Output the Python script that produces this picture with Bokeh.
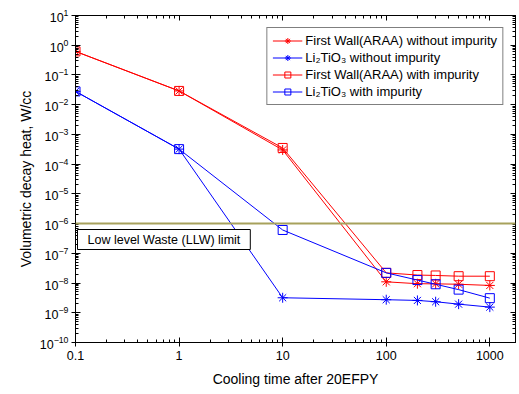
from bokeh.plotting import figure
from bokeh.models import (LogAxis, FixedTicker, CustomJSTickFormatter, Span, Label,
                          Legend, LegendItem, Range1d)
from bokeh.embed import file_html
from bokeh.resources import INLINE

# ---- data ----
cooling_time = [0.1, 1, 10, 100, 200, 300, 500, 1000]
fw_without = [0.62, 0.029, 3.0e-4, 1.1e-8, 9.5e-9, 9.4e-9, 9.1e-9, 8.3e-9]
li_without = [0.028, 3.2e-4, 3.2e-9, 2.75e-9, 2.6e-9, 2.35e-9, 1.95e-9, 1.55e-9]
fw_with = [0.62, 0.029, 3.5e-4, 2.2e-8, 1.86e-8, 1.8e-8, 1.7e-8, 1.7e-8]
li_with = [0.028, 3.2e-4, 6.1e-7, 2.2e-8, 1.26e-8, 9.1e-9, 6.0e-9, 3.1e-9]
llw_limit = 1e-6

series_names = ["First Wall(ARAA) without impurity", "Li\u2082TiO\u2083 without impurity",
                "First Wall(ARAA) with impurity", "Li\u2082TiO\u2083 with impurity"]

# axis tick positions (decades) and minor ticks
x_decades = [-1, 0, 1, 2, 3]
y_decades = list(range(-10, 2))
x_major = [10.0 ** d for d in x_decades]
y_major = [10.0 ** d for d in y_decades]
x_minor = [m * 10.0 ** d for d in x_decades for m in range(2, 10)]
y_minor = [m * 10.0 ** d for d in y_decades[:-1] for m in range(2, 10)]

FONT = "Liberation Sans"

p = figure(width=519, height=394, x_axis_type="log", y_axis_type="log",
           x_range=Range1d(0.1, 1770), y_range=Range1d(1e-10, 10),
           output_backend="svg", toolbar_location=None,
           min_border_left=75, min_border_right=4, min_border_top=15, min_border_bottom=52)
p.grid.visible = False
p.outline_line_color = "black"
p.background_fill_color = "white"

xa = p.xaxis[0]
ya = p.yaxis[0]
xa.ticker = FixedTicker(ticks=x_major, minor_ticks=x_minor)
ya.ticker = FixedTicker(ticks=y_major, minor_ticks=y_minor)
xa.formatter = CustomJSTickFormatter(code="return tick < 1 ? tick.toFixed(1) : tick.toFixed(0);")
for ax in (xa, ya):
    ax.major_tick_in = 5
    ax.major_tick_out = 4
    ax.minor_tick_in = 3
    ax.minor_tick_out = 0
    ax.axis_line_color = "black"
    ax.major_tick_line_color = "black"
    ax.minor_tick_line_color = "black"
    ax.major_label_text_font = FONT
    ax.major_label_text_font_size = "12.5px"
    ax.major_label_text_color = "black"
    ax.axis_label_text_font = FONT
    ax.axis_label_text_font_size = "14px"
    ax.axis_label_text_font_style = "normal"
    ax.axis_label_text_color = "black"
xa.axis_label = "Cooling time after 20EFPY"
ya.axis_label = "Volumetric decay heat, W/cc"
xa.major_label_standoff = 4
ya.major_label_standoff = 3
xa.axis_label_standoff = 8
ya.axis_label_standoff = 3

# mirrored axes without labels
for loc, tk in (("right", ya.ticker), ("above", xa.ticker)):
    ax = LogAxis(ticker=FixedTicker(ticks=tk.ticks, minor_ticks=tk.minor_ticks),
                 formatter=CustomJSTickFormatter(code="return ' ';"))
    ax.major_tick_in = 5
    ax.major_tick_out = 0
    ax.minor_tick_in = 3
    ax.minor_tick_out = 0
    ax.major_label_standoff = 0
    ax.major_label_text_font_size = "2px"
    ax.axis_line_color = "black"
    ax.major_tick_line_color = "black"
    ax.minor_tick_line_color = "black"
    p.add_layout(ax, loc)

# LLW limit line
p.add_layout(Span(location=llw_limit, dimension="width", line_color="#a7a15c", line_width=2))
p.add_layout(Label(x=2, y=93, x_units="screen", y_units="screen",
                   text="Low level Waste (LLW) limit", text_font=FONT, text_font_size="12.5px",
                   text_color="black", text_baseline="bottom", text_align="left",
                   border_line_color="black", border_line_width=1, background_fill_color="white",
                   padding=dict(left=10, right=10, top=3, bottom=3)))

colors = ["red", "blue", "red", "blue"]
ys = [fw_without, li_without, fw_with, li_with]
markers = ["asterisk", "asterisk", "square", "square"]
items = []
for name, c, yv, m in zip(series_names, colors, ys, markers):
    r1 = p.line(cooling_time, yv, line_color=c, line_width=1)
    r2 = p.scatter(cooling_time, yv, marker=m, size=10 if m == "asterisk" else 9,
                   line_color=c, fill_color=None, line_width=1)
    items.append(LegendItem(label=name, renderers=[r1, r2]))

legend = Legend(items=items, location="top_right", label_text_font=FONT,
                label_text_font_size="13px", label_text_color="black",
                border_line_color="black", border_line_width=1, background_fill_color="white",
                padding=5, spacing=2, glyph_width=30, glyph_height=15, label_height=15,
                label_standoff=3, margin=12)
p.add_layout(legend)

open("out.html", "w").write(file_html(p, INLINE))
